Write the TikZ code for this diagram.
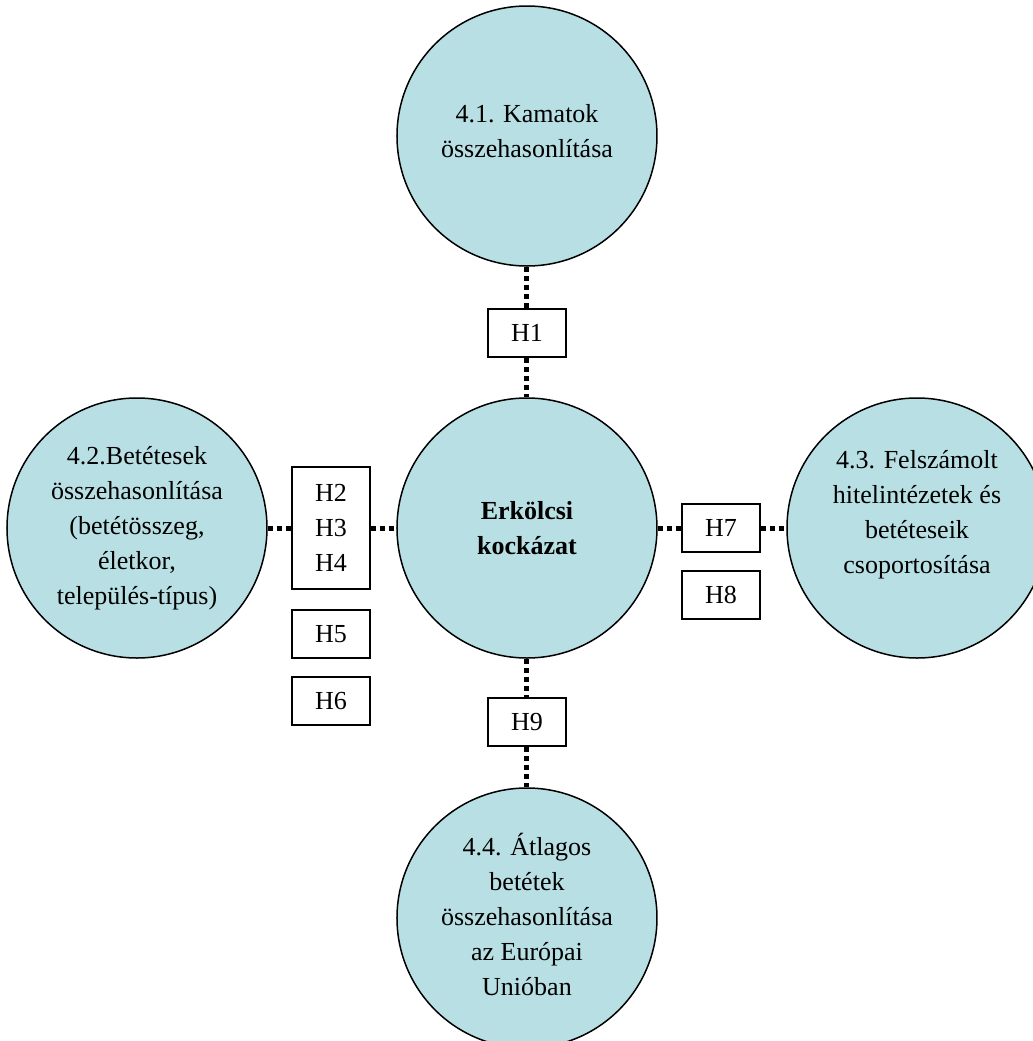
\documentclass[tikz,border=0pt]{standalone}
\usepackage{fontspec}
\setmainfont{Liberation Serif}
\usetikzlibrary{positioning}
\definecolor{topicfill}{RGB}{184,223,227}
\tikzstyle{topic} = [circle, draw, line width=0.75pt, fill=topicfill,
    minimum size=130pt, inner sep=0pt, align=center, node distance=195pt]
\tikzstyle{hyp} = [rectangle, draw, line width=0.75pt, fill=white,
    minimum width=39pt, minimum height=24pt, inner sep=0pt, align=center]
\tikzstyle{link} = [draw, line width=2.5pt, dash pattern=on 2.5pt off 2pt]

\begin{document}
\begin{tikzpicture}[font=\fontsize{13}{17.5}\selectfont]
    \useasboundingbox (-263.5pt,-256.5pt) rectangle (253pt,264pt);
    % Place nodes
    \node[topic] (risk) {\textbf{Erkölcsi}\\\textbf{kockázat}};
    \node[topic, above of=risk, node distance=196pt, text depth=5pt] (kamat) {4.1. Kamatok\\összehasonlítása};
    \node[topic, left of=risk] (betet) {4.2.Betétesek\\összehasonlítása\\(betétösszeg,\\életkor,\\település-típus)};
    \node[topic, right of=risk, text depth=16pt] (felsz) {4.3. Felszámolt\\hitelintézetek és\\betéteseik\\csoportosítása};
    \node[topic, below of=risk, text depth=4pt] (atlag) {4.4. Átlagos\\betétek\\összehasonlítása\\az Európai\\Unióban};
    % Hypothesis boxes
    \node[hyp, above of=risk, node distance=97.5pt] (h1) {H1};
    \node[hyp, left of=risk, node distance=98pt, minimum height=61pt] (h2) {H2\\H3\\H4};
    \node[hyp, below of=h2, node distance=53pt] (h5) {H5};
    \node[hyp, below of=h5, node distance=33.5pt] (h6) {H6};
    \node[hyp, right of=risk, node distance=97pt] (h7) {H7};
    \node[hyp, below of=h7, node distance=33.5pt] (h8) {H8};
    \node[hyp, below of=risk, node distance=97pt] (h9) {H9};
    % Draw edges
    \path [link] (kamat) -- (h1);
    \path [link] (h1) -- (risk);
    \path [link] (betet) -- (h2);
    \path [link] (h2) -- (risk);
    \path [link] (risk) -- (h7);
    \path [link] (h7) -- (felsz);
    \path [link] (risk) -- (h9);
    \path [link] (h9) -- (atlag);
\end{tikzpicture}
\end{document}
